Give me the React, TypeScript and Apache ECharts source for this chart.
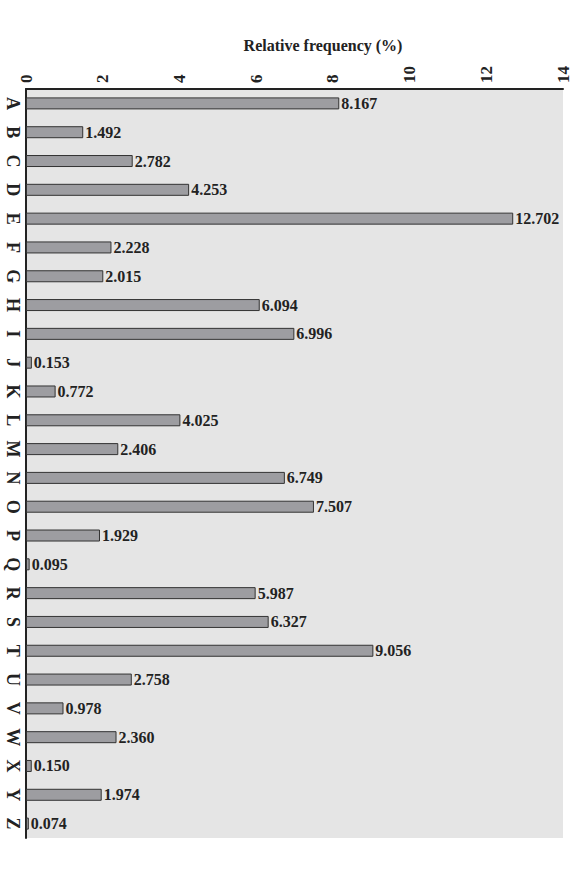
import React, { useEffect, useRef } from "react";
import * as echarts from "echarts";

const letters = ["A","B","C","D","E","F","G","H","I","J","K","L","M","N","O","P","Q","R","S","T","U","V","W","X","Y","Z"];
const frequencies = [8.167,1.492,2.782,4.253,12.702,2.228,2.015,6.094,6.996,0.153,0.772,4.025,2.406,6.749,7.507,1.929,0.095,5.987,6.327,9.056,2.758,0.978,2.360,0.150,1.974,0.074];
const axisTitle = "Relative frequency (%)";

const FONT = "'Liberation Serif', 'Times New Roman', serif";

export default function App() {
  const ref = useRef<HTMLDivElement>(null);
  useEffect(() => {
    if (!ref.current) return;
    const chart = echarts.init(ref.current, null, { renderer: "svg" });
    chart.setOption({
      animation: false,
      backgroundColor: "#ffffff",
      title: {
        text: axisTitle,
        left: 318,
        top: 32,
        textAlign: "center",
        textStyle: { fontFamily: FONT, fontWeight: "bold", fontSize: 16, color: "#222" },
      },
      grid: {
        left: 26, right: 23, top: 89, bottom: 34,
        show: true, backgroundColor: "#e5e5e5", borderWidth: 0,
      },
      xAxis: {
        type: "value",
        position: "top",
        min: 0, max: 14, interval: 2,
        axisLine: { show: true, lineStyle: { color: "#222", width: 2 } },
        axisTick: { show: false },
        splitLine: { show: false },
        axisLabel: {
          rotate: -90, margin: 6,
          fontFamily: FONT, fontWeight: "bold", fontSize: 17, color: "#222",
        },
      },
      yAxis: {
        type: "category",
        data: letters,
        inverse: true,
        axisLine: { show: true, lineStyle: { color: "#222", width: 2 } },
        axisTick: { show: false },
        axisLabel: {
          rotate: -90, margin: 4,
          fontFamily: FONT, fontWeight: "bold", fontSize: 18, color: "#222",
        },
      },
      series: [{
        type: "bar",
        data: frequencies,
        barWidth: 12,
        itemStyle: { color: "#9d9da1", borderColor: "#333", borderWidth: 1 },
        label: {
          show: true, position: "right", distance: 2,
          formatter: (p: any) => Number(p.value).toFixed(3),
          fontFamily: FONT, fontWeight: "bold", fontSize: 16, color: "#222",
        },
      }],
    });
    return () => chart.dispose();
  }, []);
  return <div ref={ref} style={{ position: "fixed", left: 0, top: 0, width: 586, height: 872 }} />;
}
